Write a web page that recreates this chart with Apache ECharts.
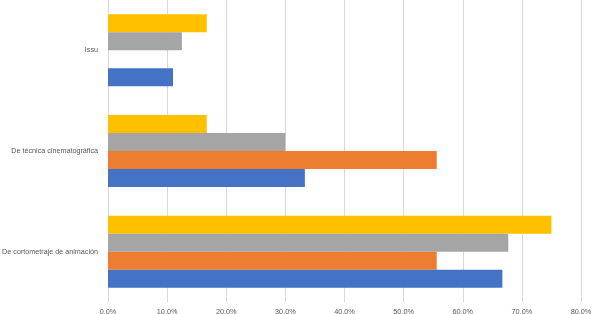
<!DOCTYPE html>
<html>
<head>
<meta charset="utf-8">
<script src="https://cdn.jsdelivr.net/npm/echarts@6/dist/echarts.min.js"></script>
<style>
  html, body { margin: 0; padding: 0; background: #fff; }
  #chart { width: 592px; height: 314px; }
</style>
</head>
<body>
<div id="chart"></div>
<script>
// categorías de abajo hacia arriba
var categories = ['De cortometraje de animación', 'De técnica cinematográfica', 'Issu'];
var serieAzul = [66.7, 33.3, 11.0];
var serieNaranja = [55.6, 55.6, null];
var serieGris = [67.7, 30.0, 12.5];
var serieAmarilla = [75.0, 16.7, 16.7];
var xTicks = [0, 10, 20, 30, 40, 50, 60, 70, 80];

function fmt(v) {
  return v.toFixed(1).replace('.', ',') + '%';
}

function barra(datos, color) {
  return { type: 'bar', data: datos, barGap: 0, barCategoryGap: '28.5%', itemStyle: { color: color } };
}

var chart = echarts.init(document.getElementById('chart'));
var option = {
  animation: false,
  grid: { left: 108, right: 11, top: 0, bottom: 12, containLabel: false, outerBoundsMode: 'none' },
  xAxis: {
    type: 'value',
    min: xTicks[0],
    max: xTicks[xTicks.length - 1],
    interval: 10,
    axisLine: { show: false },
    axisTick: { show: false },
    splitLine: { lineStyle: { color: '#d9d9d9', width: 1 } },
    axisLabel: {
      formatter: fmt,
      fontFamily: 'Liberation Sans, Arial, sans-serif',
      fontSize: 7.3,
      color: '#595959',
      margin: 6
    }
  },
  yAxis: {
    type: 'category',
    data: categories,
    axisLine: { show: false },
    axisTick: { show: false },
    axisLabel: {
      fontFamily: 'Liberation Sans, Arial, sans-serif',
      fontSize: 7.2,
      color: '#595959',
      margin: 10
    }
  },
  // el primero se dibuja arriba dentro de cada grupo
  series: [
    barra(serieAmarilla, '#ffc000'),
    barra(serieGris, '#a5a5a5'),
    barra(serieNaranja, '#ed7d31'),
    barra(serieAzul, '#4472c4')
  ]
};
chart.setOption(option);
</script>
</body>
</html>
